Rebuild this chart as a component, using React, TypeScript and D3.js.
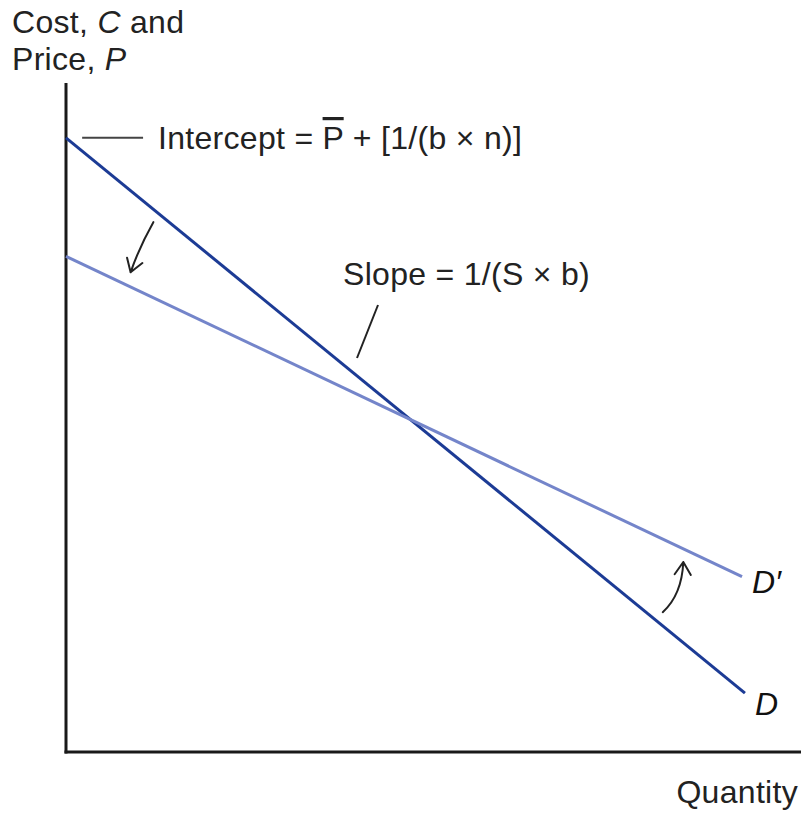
import * as d3 from 'd3'

// demand curves, in chart units (0-100 on both axes)
const curveNames = ['D', "D\u2032"]
const curveX0 = [0, 0]
const curveY0 = [91.8, 74.1]
const curveX1 = [92.5, 92.1]
const curveY1 = [8.8, 26.2]
const curveColors = ['#1c3b95', '#7485ca']

const yTitle = ['Cost, ', 'C', ' and']
const yTitle2 = ['Price, ', 'P']
const xTitle = 'Quantity'

const W = 801
const H = 813
const font = "'Liberation Sans', Arial, Helvetica, sans-serif"
const fs = 32
const ls = 0.3

export default function App() {
  const x = d3.scaleLinear().domain([0, 100]).range([66, 800])
  const y = d3.scaleLinear().domain([0, 100]).range([752, 83])

  const line = d3.line<[number, number]>().x(d => x(d[0])).y(d => y(d[1]))

  const curves = curveNames.map((name, i) => ({
    name,
    color: curveColors[i],
    pts: [[curveX0[i], curveY0[i]], [curveX1[i], curveY1[i]]] as [number, number][],
  }))

  // curved arrows showing the rotation (start, control, tip in chart units)
  const arrows: [number, number][][] = [
    [[11.9, 79.2], [10.0, 75.5], [8.8, 71.7]],
    [[81.3, 20.9], [83.9, 23.5], [84.1, 28.4]],
  ]

  const arrowPath = (a: [number, number][]) => {
    const p = a.map(d => [x(d[0]), y(d[1])])
    const path = d3.path()
    path.moveTo(p[0][0], p[0][1])
    path.quadraticCurveTo(p[1][0], p[1][1], p[2][0], p[2][1])
    const ang = Math.atan2(p[2][1] - p[1][1], p[2][0] - p[1][0])
    const len = 15
    const spread = Math.PI / 5.5
    const tip = p[2]
    const w1 = [tip[0] - len * Math.cos(ang - spread), tip[1] - len * Math.sin(ang - spread)]
    const w2 = [tip[0] - len * Math.cos(ang + spread), tip[1] - len * Math.sin(ang + spread)]
    path.moveTo(w1[0], w1[1])
    path.lineTo(tip[0], tip[1])
    path.lineTo(w2[0], w2[1])
    return path.toString()
  }

  const endLabel = (i: number) => ({
    lx: x(curveX1[i]) + 10,
    ly: y(curveY1[i]) + (i === 0 ? 22 : 16),
  })

  return (
    <svg width={W} height={H} style={{ position: 'absolute', left: 0, top: 0, background: '#fff' }}
      fontFamily={font}>
      {/* axes */}
      <line x1={x(0)} x2={x(0)} y1={y(100)} y2={y(0) + 1.5} stroke="#1a1a1a" strokeWidth={3} />
      <line x1={x(0) - 1.5} x2={W} y1={y(0)} y2={y(0)} stroke="#1a1a1a" strokeWidth={3} />

      {/* demand curves */}
      {curves.map(c => (
        <path key={c.name} d={line(c.pts) || ''} stroke={c.color} strokeWidth={3} fill="none" />
      ))}
      {curves.map((c, i) => {
        const l = endLabel(i)
        return (
          <text key={c.name + 'l'} x={l.lx} y={l.ly} fontSize={fs} fontStyle="italic" fill="#111">
            {c.name}
          </text>
        )
      })}

      {/* rotation arrows */}
      {arrows.map((a, i) => (
        <path key={i} d={arrowPath(a)} stroke="#222" strokeWidth={2} fill="none"
          strokeLinecap="round" strokeLinejoin="round" />
      ))}

      {/* intercept annotation */}
      <line x1={x(2.2)} x2={x(10.5)} y1={y(curveY0[0])} y2={y(curveY0[0])} stroke="#444" strokeWidth={2} />
      <text x={158} y={149} fontSize={fs} letterSpacing={ls} fill="#222">
        {'Intercept = '}
        <tspan style={{ textDecoration: 'overline' }}>P</tspan>
        {' + [1/(b \u00d7 n)]'}
      </text>

      {/* slope annotation */}
      <line x1={378} y1={305} x2={357} y2={358} stroke="#222" strokeWidth={2} />
      <text x={343} y={285} fontSize={fs} letterSpacing={ls} fill="#222">{'Slope = 1/(S \u00d7 b)'}</text>

      {/* axis titles */}
      <text x={12} y={33} fontSize={fs} letterSpacing={ls} fill="#222">
        {yTitle[0]}<tspan fontStyle="italic">{yTitle[1]}</tspan>{yTitle[2]}
      </text>
      <text x={12} y={70} fontSize={fs} letterSpacing={ls} fill="#222">
        {yTitle2[0]}<tspan fontStyle="italic">{yTitle2[1]}</tspan>
      </text>
      <text x={798} y={803} fontSize={fs} letterSpacing={ls} fill="#222" textAnchor="end">{xTitle}</text>
    </svg>
  )
}
